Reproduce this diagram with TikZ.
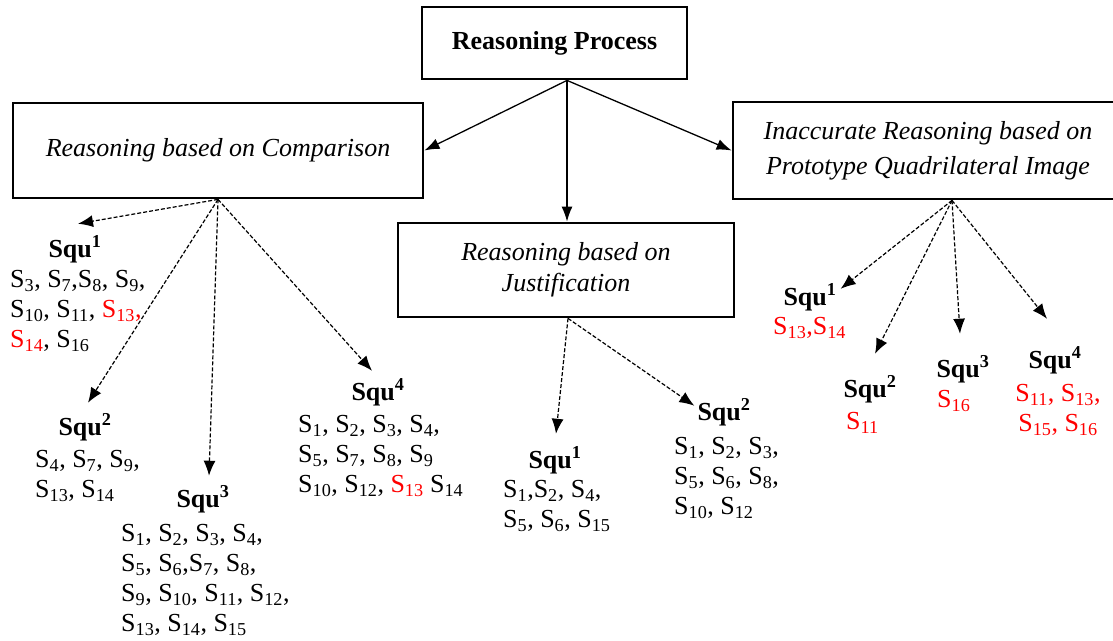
\documentclass[tikz,border=0pt]{standalone}
\usepackage{fontspec}
\setmainfont{Liberation Serif}
\usetikzlibrary{arrows.meta}

\newcommand{\sj}[1]{S\textsubscript{#1}}
\newcommand{\sq}[1]{\textbf{Squ\textsuperscript{#1}}}
\newcommand{\rd}[1]{\textcolor{red}{#1}}

\begin{document}
\begin{tikzpicture}[x=1pt, y=-1pt,
  every node/.style={font=\fontsize{26}{30}\selectfont},
  box/.style={draw, line width=2.8pt, inner sep=0pt, align=center},
  head/.style={anchor=base, inner sep=0pt},
  list/.style={anchor=north west, inner sep=0pt, align=left},
  solidarrow/.style={line width=1.3pt, -{Latex[length=15pt,width=11pt]}},
  dasharrow/.style={line width=1.2pt, dash pattern=on 4pt off 2pt, -{Latex[length=15pt,width=12pt]}}]

  \useasboundingbox (0,0) rectangle (1113,640);

  % Main boxes
  \node[box, minimum width=265, minimum height=72] (proc) at (554.5,43) {\textbf{Reasoning Process}};
  \node[box, minimum width=410, minimum height=95] (cmp) at (218,150.5) {\textit{Reasoning based on Comparison}};
  \node[box, minimum width=336, minimum height=94, font=\fontsize{26}{31}\selectfont] (jus) at (566,270) {\textit{Reasoning based on}\\\textit{Justification}};
  \node[box, minimum width=390, minimum height=97, font=\fontsize{26}{35}\selectfont] (pro) at (928,150.5) {\textit{Inaccurate Reasoning based on}\\\textit{Prototype Quadrilateral Image}};

  % Top arrows
  \coordinate (rp) at ([xshift=12.5pt]proc.south);
  \draw[solidarrow] (rp) -- (cmp.east);
  \draw[solidarrow] (rp) -- (pro.west);
  \draw[solidarrow] (rp) -- (rp |- jus.north);

  % Comparison
  \node[head] (c1) at (75,257) {\sq{1}};
  \node[list] (c1l) at (10,270) {\sj{3}, \sj{7},\sj{8}, \sj{9},\\\sj{10}, \sj{11}, \rd{\sj{13},}\\\rd{\sj{14}}, \sj{16}};
  \node[head] (c2) at (85,435) {\sq{2}};
  \node[list] (c2l) at (35,450) {\sj{4}, \sj{7}, \sj{9},\\\sj{13}, \sj{14}};
  \node[head] (c3) at (203,507) {\sq{3}};
  \node[list] (c3l) at (121,524) {\sj{1}, \sj{2}, \sj{3}, \sj{4},\\\sj{5}, \sj{6},\sj{7}, \sj{8},\\\sj{9}, \sj{10}, \sj{11}, \sj{12},\\\sj{13}, \sj{14}, \sj{15}};
  \node[head] (c4) at (378,400) {\sq{4}};
  \node[list] (c4l) at (298,415) {\sj{1}, \sj{2}, \sj{3}, \sj{4},\\\sj{5}, \sj{7}, \sj{8}, \sj{9}\\\sj{10}, \sj{12}, \rd{\sj{13}} \sj{14}};

  \draw[dasharrow] (cmp.south) -- ([shift={(3pt,12pt)}]c1.north);
  \draw[dasharrow] (cmp.south) -- ([shift={(3pt,11pt)}]c2.north);
  \draw[dasharrow] (cmp.south) -- ([shift={(6pt,10pt)}]c3.north);
  \draw[dasharrow] (cmp.south) -- ([shift={(-6pt,8pt)}]c4.north);

  % Justification
  \node[head] (j1) at (555,468) {\sq{1}};
  \node[list] (j1l) at (503,480) {\sj{1},\sj{2}, \sj{4},\\\sj{5}, \sj{6}, \sj{15}};
  \node[head] (j2) at (724,420) {\sq{2}};
  \node[list] (j2l) at (674,437) {\sj{1}, \sj{2}, \sj{3},\\\sj{5}, \sj{6}, \sj{8},\\\sj{10}, \sj{12}};

  \draw[dasharrow] ([xshift=2pt]jus.south) -- ([shift={(1pt,13pt)}]j1.north);
  \draw[dasharrow] ([xshift=2pt]jus.south) -- ([shift={(-3pt,-7pt)}]j2.north west);

  % Prototype image
  \node[head] (p1) at (810,305) {\sq{1}};
  \node[list, text=red] (p1l) at (773,317) {\sj{13},\sj{14}};
  \node[head] (p2) at (870,397) {\sq{2}};
  \node[list, text=red] (p2l) at (846,412) {\sj{11}};
  \node[head] (p3) at (963,377) {\sq{3}};
  \node[list, text=red] (p3l) at (937,390) {\sj{16}};
  \node[head] (p4) at (1055,368) {\sq{4}};
  \node[list, text=red, anchor=north, align=center] (p4l) at (1058,384) {\sj{11}, \sj{13},\\\sj{15}, \sj{16}};

  \coordinate (ps) at ([xshift=24pt]pro.south);
  \draw[dasharrow] (ps) -- ([shift={(4pt,-5pt)}]p1.north east);
  \draw[dasharrow] (ps) -- ([shift={(5pt,22pt)}]p2.north);
  \draw[dasharrow] (ps) -- ([shift={(-3pt,22pt)}]p3.north);
  \draw[dasharrow] (ps) -- ([shift={(-8pt,28pt)}]p4.north);

\end{tikzpicture}
\end{document}
